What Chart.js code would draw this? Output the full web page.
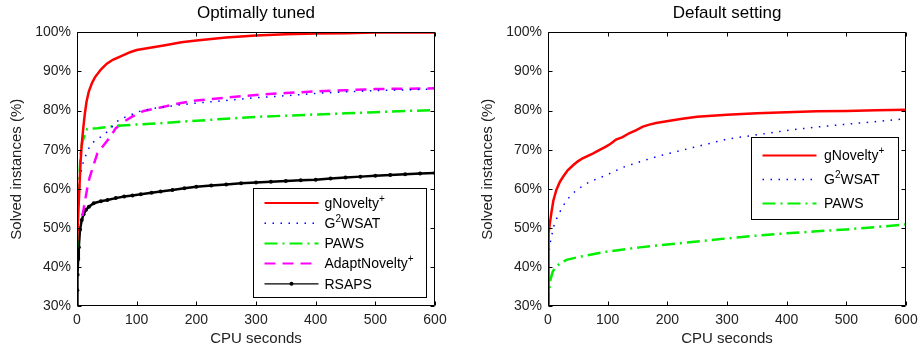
<!DOCTYPE html>
<html>
<head>
<meta charset="utf-8">
<script src="https://cdn.jsdelivr.net/npm/chart.js@4.4.0/dist/chart.umd.min.js"></script>
<style>
  body { margin: 0; background: #fff; }
  #wrap { position: relative; width: 919px; height: 348px; }
  .panel { position: absolute; top: 0; height: 348px; }
</style>
</head>
<body>
<div id="wrap">
  <div class="panel" style="left:0;width:460px"><canvas id="tunedChart"></canvas></div>
  <div class="panel" style="left:460px;width:459px"><canvas id="defaultChart"></canvas></div>
</div>
<script>
const FONT = '"Liberation Sans", Arial, Helvetica, sans-serif';

// tick values and series names ('^' marks the next character as superscript)
const xTickValues = [0, 100, 200, 300, 400, 500, 600];
const yTickValues = [30, 40, 50, 60, 70, 80, 90, 100];
const tunedNames = ['gNovelty^+', 'G^2WSAT', 'PAWS', 'AdaptNovelty^+', 'RSAPS'];
const defaultNames = ['gNovelty^+', 'G^2WSAT', 'PAWS'];

// Optimally tuned
const tunedGnoveltyTime = [0, 0.5, 2, 3.5, 6, 8, 10.5, 13, 16, 20, 25, 30, 40, 50, 60, 75, 90, 100, 120, 150, 175, 200, 250, 300, 350, 400, 450, 500, 600];
const tunedGnoveltySolved = [47, 48.2, 53, 58.4, 66.9, 71.5, 75.5, 79, 82.3, 85, 87, 88.5, 90.5, 92, 93, 94, 95, 95.5, 96, 96.8, 97.5, 97.9, 98.7, 99.2, 99.5, 99.7, 99.8, 100, 100];

const tunedG2wsatTime = [0, 1, 2, 3.5, 6, 9, 12, 20, 28, 40, 51, 59, 70, 90, 107, 130, 170, 200, 250, 300, 350, 400, 450, 500, 550, 600];
const tunedG2wsatSolved = [46, 52, 55, 58.5, 63.5, 66, 67.5, 70.4, 72, 73.3, 74.6, 75.9, 77.6, 78.9, 79.9, 80.6, 81.4, 81.9, 82.6, 83.3, 83.8, 84.4, 84.8, 85.1, 85.3, 85.5];

const tunedPawsTime = [0, 0.5, 2, 3.5, 6, 9, 12, 17, 34, 67, 107, 143, 200, 250, 300, 350, 400, 450, 500, 550, 600];
const tunedPawsSolved = [45, 52.4, 57, 61.4, 69, 72, 73.3, 75.3, 75.5, 76.1, 76.5, 76.8, 77.4, 77.9, 78.4, 78.7, 79, 79.3, 79.6, 79.9, 80.1];

const tunedAdaptTime = [9, 13, 17, 21, 26, 34, 45, 56, 65, 79, 93, 112, 140, 170, 200, 250, 300, 350, 400, 450, 500, 550, 600];
const tunedAdaptSolved = [53, 56.5, 60, 62.8, 65.2, 69, 71.2, 73.3, 75.5, 77.2, 78.5, 79.9, 80.8, 81.8, 82.6, 83.3, 84, 84.5, 84.9, 85.2, 85.5, 85.6, 85.7];

const tunedRsapsTime = [0, 0.5, 1, 2, 3, 5, 8, 11, 15, 20, 28, 40, 51, 65, 79, 93, 107, 125, 140, 160, 180, 200, 225, 250, 275, 300, 325, 350, 375, 400, 425, 450, 475, 500, 525, 550, 575, 600];
const tunedRsapsSolved = [30, 34, 38, 42, 45, 49.5, 52, 53.5, 54.6, 55.4, 56.3, 56.8, 57.1, 57.6, 58, 58.3, 58.6, 59, 59.3, 59.7, 60.1, 60.5, 60.8, 61.1, 61.4, 61.6, 61.8, 62, 62.2, 62.3, 62.6, 62.9, 63.1, 63.3, 63.5, 63.7, 63.9, 64];

// Default setting
const defaultGnoveltyTime = [0, 0.5, 1.5, 3, 5.6, 9, 14, 20, 25, 33, 42, 50, 58, 75, 85, 97, 105, 114, 125, 136, 148, 159, 170, 181, 204, 225, 250, 275, 300, 350, 400, 450, 500, 550, 600];
const defaultGnoveltySolved = [30, 45, 48.7, 51, 53.8, 57, 59.7, 61.8, 63, 64.7, 66, 67, 67.8, 69, 69.8, 70.8, 71.5, 72.6, 73.2, 74.2, 75, 75.9, 76.4, 76.8, 77.4, 77.9, 78.4, 78.7, 78.9, 79.3, 79.6, 79.8, 79.9, 80.1, 80.2];

const defaultG2wsatTime = [0, 0.5, 1, 3, 5.6, 11, 20, 31, 48, 70, 98, 126, 154, 182, 204, 250, 300, 350, 400, 450, 500, 550, 600];
const defaultG2wsatSolved = [30, 36, 42.6, 45.5, 47.7, 51.2, 54.1, 57.1, 59.7, 61.8, 63.5, 65.5, 66.9, 68.2, 69.1, 70.8, 72.7, 73.8, 74.9, 75.8, 76.5, 77.2, 77.9];

const defaultPawsTime = [0, 1, 2, 4, 8, 12, 17, 24, 31, 53, 98, 154, 204, 250, 300, 350, 400, 450, 500, 550, 600];
const defaultPawsSolved = [30, 33, 34, 36.7, 38.8, 39.8, 40.5, 41.2, 41.8, 42.6, 43.9, 45, 45.8, 46.5, 47.3, 48, 48.6, 49.1, 49.6, 50.2, 50.9];

const styles = {
  'gNovelty^+': { color: '#ff0000', width: 2.5, dash: [] },
  'G^2WSAT': { color: '#0000ff', width: 1.5, dash: [1.5, 6.5] },
  'PAWS': { color: '#00f000', width: 2.5, dash: [13, 5, 2, 5] },
  'AdaptNovelty^+': { color: '#ff00ff', width: 2.5, dash: [11, 7] },
  'RSAPS': { color: '#000000', width: 2.5, dash: [], marker: 2 },
};

function makeDataset(name, times, solved) {
  const s = styles[name];
  return {
    label: name.replace('^', ''),
    seriesName: name,
    data: times.map((t, i) => ({ x: t, y: solved[i] })),
    borderColor: s.color,
    backgroundColor: s.color,
    borderWidth: s.width,
    borderDash: s.dash,
    pointRadius: s.marker || 0,
    pointBorderWidth: 0,
    pointHoverRadius: 0,
    tension: 0,
    fill: false,
  };
}

function drawLabel(ctx, text, x, y) {
  let cx = x;
  ctx.textBaseline = 'middle';
  ctx.textAlign = 'left';
  ctx.fillStyle = '#000';
  text.split('^').forEach((part, k) => {
    let body = part;
    if (k > 0) {
      const sup = part[0];
      body = part.slice(1);
      ctx.font = '10px ' + FONT;
      ctx.fillText(sup, cx, y - 5);
      cx += ctx.measureText(sup).width;
    }
    ctx.font = '14px ' + FONT;
    ctx.fillText(body, cx, y);
    cx += ctx.measureText(body).width;
  });
}

// box round the plot with inward tick marks on all four sides
const axesBox = {
  id: 'axesBox',
  afterDatasetsDraw(chart) {
    const { ctx, chartArea: a, scales: { x, y } } = chart;
    const L = Math.round(a.left) + 0.5, R = Math.round(a.right) - 0.5;
    const T = Math.round(a.top) + 0.5, B = Math.round(a.bottom) - 0.5;
    ctx.save();
    ctx.strokeStyle = '#000';
    ctx.lineWidth = 1;
    ctx.beginPath();
    ctx.rect(L, T, R - L, B - T);
    x.ticks.forEach((t) => {
      const px = Math.round(x.getPixelForValue(t.value)) + 0.5;
      ctx.moveTo(px, B); ctx.lineTo(px, B - 4);
      ctx.moveTo(px, T); ctx.lineTo(px, T + 4);
    });
    y.ticks.forEach((t) => {
      const py = Math.round(y.getPixelForValue(t.value)) + 0.5;
      ctx.moveTo(L, py); ctx.lineTo(L + 4, py);
      ctx.moveTo(R, py); ctx.lineTo(R - 4, py);
    });
    ctx.stroke();
    ctx.restore();
  },
};

const boxLegend = {
  id: 'boxLegend',
  afterDraw(chart, args, opts) {
    const { ctx, chartArea: a } = chart;
    const left = Math.round(a.right - opts.inset - opts.width);
    const top = Math.round(opts.top != null ? a.top + opts.top : a.bottom - opts.inset - opts.height);
    ctx.save();
    ctx.fillStyle = '#fff';
    ctx.fillRect(left, top, opts.width, opts.height);
    ctx.strokeStyle = '#000';
    ctx.lineWidth = 1;
    ctx.strokeRect(left + 0.5, top + 0.5, opts.width, opts.height);
    chart.data.datasets.forEach((ds, i) => {
      const s = styles[ds.seriesName];
      const yy = top + opts.firstRow + i * opts.rowGap;
      ctx.beginPath();
      ctx.setLineDash(s.dash);
      ctx.lineWidth = s.marker ? 1.2 : Math.min(s.width, 2);
      ctx.strokeStyle = s.color;
      ctx.moveTo(left + 11.5, yy);
      ctx.lineTo(left + 65.5, yy);
      ctx.stroke();
      ctx.setLineDash([]);
      if (s.marker) {
        ctx.beginPath();
        ctx.fillStyle = s.color;
        ctx.arc(left + 38.5, yy, 2, 0, Math.PI * 2);
        ctx.fill();
      }
      drawLabel(ctx, ds.seriesName, left + opts.textX, yy + 1);
    });
    ctx.restore();
  },
};

function makeChart(canvasId, title, datasets, yWidth, yTitlePad, padRight, legendOpts) {
  return new Chart(document.getElementById(canvasId), {
    type: 'line',
    data: { datasets },
    options: {
      responsive: true,
      maintainAspectRatio: false,
      animation: false,
      events: [],
      layout: { padding: { left: 0, right: padRight, top: 0, bottom: 0 } },
      scales: {
        x: {
          type: 'linear',
          min: 0,
          max: 600,
          afterBuildTicks: (s) => { s.ticks = xTickValues.map((value) => ({ value })); },
          afterFit: (s) => { s.height = 42; s.paddingLeft = 0; s.paddingRight = 0; },
          grid: { display: false, drawTicks: false },
          border: { display: false },
          ticks: { padding: 6, color: '#222', maxRotation: 0, font: { family: FONT, size: 14 } },
          title: { display: true, text: 'CPU seconds', color: '#222', padding: 0, font: { family: FONT, size: 15 } },
        },
        y: {
          min: 30,
          max: 100,
          afterBuildTicks: (s) => { s.ticks = yTickValues.map((value) => ({ value })); },
          afterFit: (s) => { s.width = yWidth; },
          grid: { display: false, drawTicks: false },
          border: { display: false },
          ticks: { padding: 6, color: '#222', font: { family: FONT, size: 14 }, callback: (v) => v + '%' },
          title: { display: true, text: 'Solved instances (%)', color: '#222', padding: { top: yTitlePad, bottom: 0 }, font: { family: FONT, size: 15 } },
        },
      },
      plugins: {
        legend: { display: false },
        tooltip: { enabled: false },
        title: {
          display: true,
          text: title,
          fullSize: false,
          color: '#000',
          padding: { top: 3, bottom: 9 },
          font: { family: FONT, size: 17, weight: 'normal' },
        },
        boxLegend: legendOpts,
      },
    },
    plugins: [axesBox, boxLegend],
  });
}

const tunedSeries = [
  [tunedGnoveltyTime, tunedGnoveltySolved],
  [tunedG2wsatTime, tunedG2wsatSolved],
  [tunedPawsTime, tunedPawsSolved],
  [tunedAdaptTime, tunedAdaptSolved],
  [tunedRsapsTime, tunedRsapsSolved],
];
const defaultSeries = [
  [defaultGnoveltyTime, defaultGnoveltySolved],
  [defaultG2wsatTime, defaultG2wsatSolved],
  [defaultPawsTime, defaultPawsSolved],
];

makeChart('tunedChart', 'Optimally tuned',
  tunedNames.map((n, i) => makeDataset(n, tunedSeries[i][0], tunedSeries[i][1])),
  77, 8, 25,
  { inset: 9, width: 173, height: 109, firstRow: 15, rowGap: 20.2, textX: 71.5 });

makeChart('defaultChart', 'Default setting',
  defaultNames.map((n, i) => makeDataset(n, defaultSeries[i][0], defaultSeries[i][1])),
  88, 19, 13,
  { inset: 8.5, top: 105, width: 147, height: 82, firstRow: 18.5, rowGap: 24, textX: 73 });
</script>
</body>
</html>
